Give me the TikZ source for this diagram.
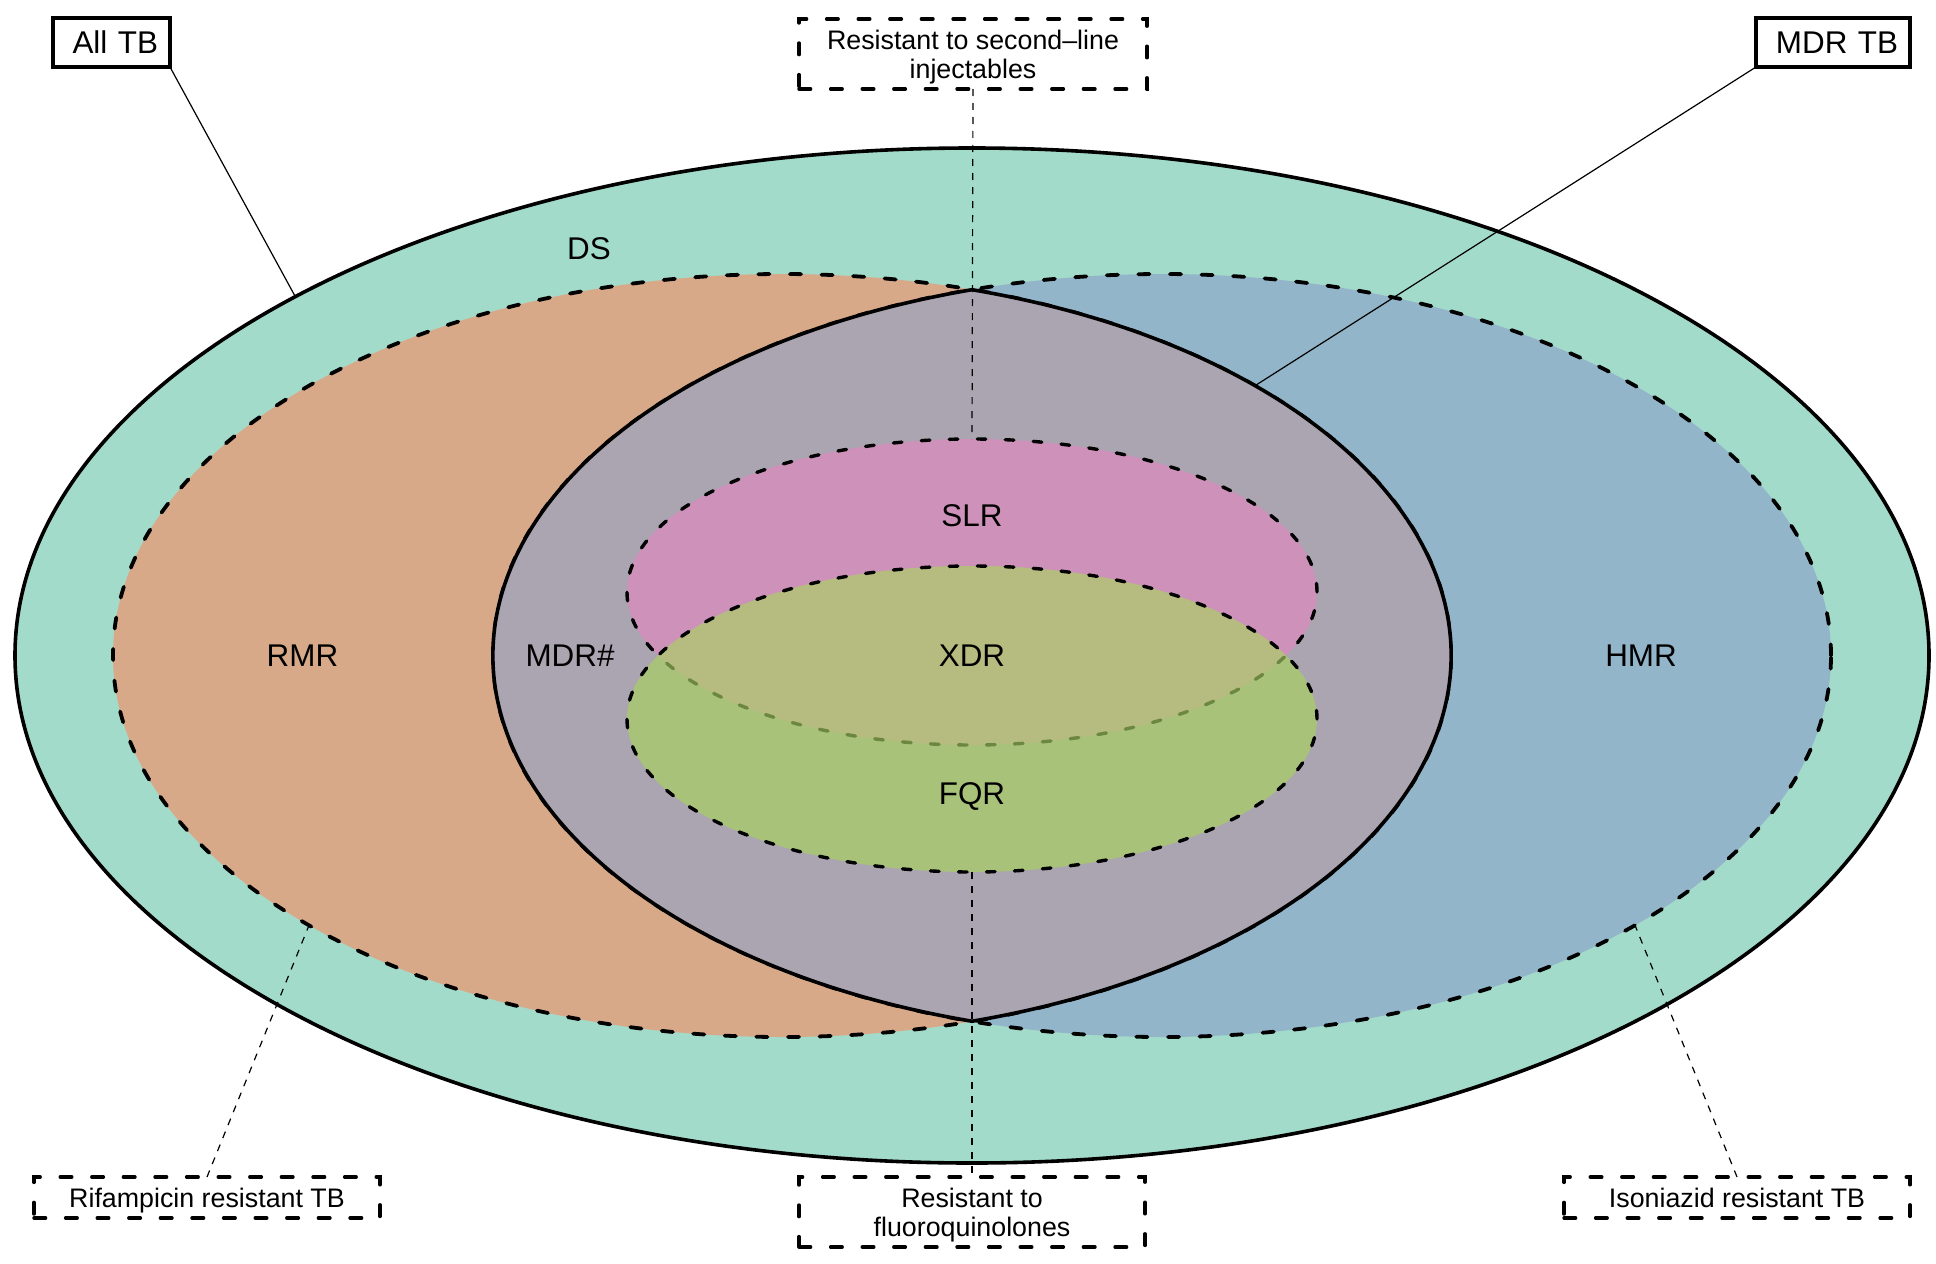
\documentclass[tikz,border=0pt]{standalone}
\usepackage{fontspec}
\setmainfont{Liberation Sans}
\definecolor{cOuter}{RGB}{163,219,203}
\definecolor{cRMR}{RGB}{216,169,136}
\definecolor{cHMR}{RGB}{147,181,202}
\definecolor{cMDR}{RGB}{171,164,177}
\definecolor{cSLR}{RGB}{206,145,186}
\definecolor{cFQR}{RGB}{168,194,122}
\definecolor{cXDR}{RGB}{182,188,127}
\definecolor{cXline}{RGB}{108,136,64}
\begin{document}
\begin{tikzpicture}[x=0.5pt,y=-0.5pt,
  thickline/.style={line width=1.8pt},
  dashline/.style={line width=1.9pt, dash pattern=on 5.6pt off 10.2pt, line cap=round},
  dashsmall/.style={line width=1.7pt, dash pattern=on 4.3pt off 9.7pt, line cap=round},
  lead/.style={line width=0.6pt},
  dashlead/.style={line width=0.6pt, dash pattern=on 3.5pt off 3.5pt},
  bigl/.style={font=\fontsize{15.7}{18}\selectfont, inner sep=0pt},
  solidbox/.style={draw, line width=1.8pt, fill=white, inner ysep=0pt, inner xsep=6pt,
    outer sep=0pt, minimum height=24.5pt, align=right, font=\fontsize{15.7}{18}\selectfont},
  dashbox/.style={draw, line width=1.7pt, dash pattern=on 5.8pt off 10pt, line cap=round,
    fill=white, inner sep=0pt, outer sep=0pt, align=center, text depth=0pt,
    font=\fontsize{13.4}{14.5}\selectfont},
  ellO/.style={x radius=478.5pt, y radius=253.75pt},
  ellB/.style={x radius=334.5pt, y radius=190.75pt},
  ellS/.style={x radius=172.5pt, y radius=76.5pt}
]
\useasboundingbox (0,0) rectangle (1936,1263);
\fill[white] (0,0) rectangle (1936,1263);

% outer ellipse (All TB)
\filldraw[fill=cOuter, draw=black, thickline] (972,655.5) ellipse [ellO];
% RMR and HMR
\fill[cRMR] (782,655.5) ellipse [ellB];
\fill[cHMR] (1162,655.5) ellipse [ellB];
\draw[dashline] (782,655.5) ellipse [ellB];
\draw[dashline] (1162,655.5) ellipse [ellB];
% MDR lens
\filldraw[fill=cMDR, thickline] (972,289.7)
  arc[start angle=73.5, end angle=-73.5, ellB]
  arc[start angle=253.5, end angle=106.5, ellB] -- cycle;
% SLR and FQR
\filldraw[fill=cSLR, dashsmall] (972,592) ellipse [ellS];
\fill[cFQR] (972,719) ellipse [ellS];
\begin{scope}
  \clip (972,592) ellipse [ellS];
  \fill[cXDR] (972,719) ellipse [ellS];
\end{scope}
\begin{scope}
  \clip (972,719) ellipse [ellS];
  \draw[dashsmall, draw=cXline] (972,592) ellipse [ellS];
\end{scope}
\draw[dashsmall] (972,719) ellipse [ellS];

% region labels
\node[bigl] (ds) at (589,249) {DS};
\node[bigl] (rmr) at (302.5,655.5) {RMR};
\node[bigl] (mdr) at (570,655.5) {MDR\#};
\node[bigl] (slr) at (972,516) {SLR};
\node[bigl] (xdr) at (972,655.5) {XDR};
\node[bigl] (fqr) at (972,796) {FQR};
\node[bigl] (hmr) at (1641,655.5) {HMR};

% boxes
\node[solidbox, text width=46.5pt] (allbox) at (111.5,42.5) {All TB};
\node[solidbox, text width=65pt] (mdrbox) at (1833,42.5) {MDR TB};
\node[dashbox, minimum width=174pt, minimum height=35pt] (slbox) at (973,54) {Resistant to second–line\\injectables};
\node[dashbox, minimum width=173pt, minimum height=35pt] (fqbox) at (972,1212) {Resistant to\\fluoroquinolones};
\node[dashbox, minimum width=173pt, minimum height=20.5pt] (rifbox) at (207,1197.5) {Rifampicin resistant TB};
\node[dashbox, minimum width=173pt, minimum height=20.5pt] (inhbox) at (1737,1197.5) {Isoniazid resistant TB};

% connector end points
\coordinate (outerpt) at (295.3,296.6);
\coordinate (mdrpt) at (1255,385.7);
\coordinate (slrtop) at (972,439);
\coordinate (fqrbot) at (972,872);
\coordinate (rmrpt) at (309,925.3);
\coordinate (hmrpt) at (1635,925.3);

% connectors
\draw[lead] (allbox.south east) -- (outerpt);
\draw[lead] (mdrbox.south west) -- (mdrpt);
\draw[dashlead] (slbox.south) -- (slrtop);
\draw[dashlead] (fqrbot) -- (fqbox.north);
\draw[dashlead] (rifbox.north) -- (rmrpt);
\draw[dashlead] (inhbox.north) -- (hmrpt);
\end{tikzpicture}
\end{document}
